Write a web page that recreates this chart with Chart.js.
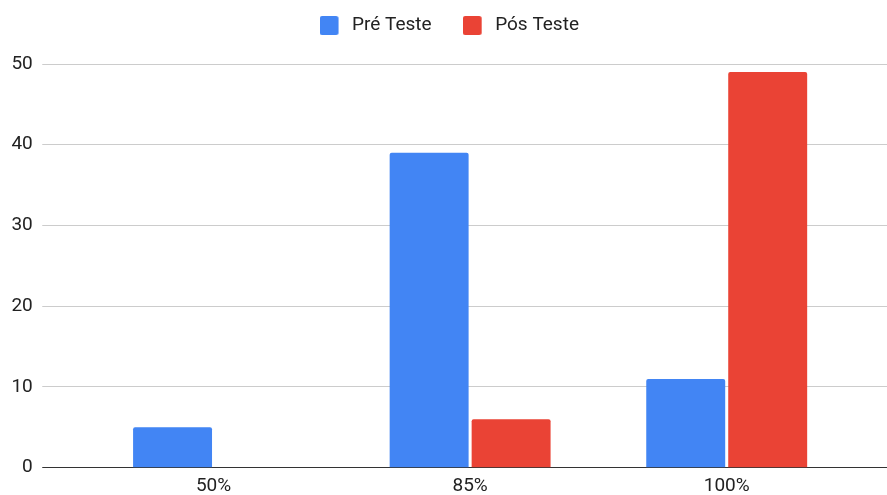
<!DOCTYPE html>
<html>
<head>
<meta charset="utf-8">
<script src="https://cdn.jsdelivr.net/npm/chart.js@4.4.1/dist/chart.umd.min.js"></script>
<style>
  html, body { margin: 0; padding: 0; background: #ffffff; }
  #wrap { width: 887px; height: 495px; position: relative; }
</style>
</head>
<body>
<div id="wrap"><canvas id="chart"></canvas></div>
<script>
// Score groups and number of answers per group
const categories = ['50%', '85%', '100%'];
const preTeste = [5, 39, 11];
const posTeste = [0, 6, 49];
const yTicks = [0, 10, 20, 30, 40, 50];
const seriesNames = ['Pré Teste', 'Pós Teste'];
const seriesColors = ['#4285F4', '#EA4335'];

const FONT = { family: 'Roboto', size: 19 };
const TEXT = '#222222';

// Rounded square legend swatch, left-aligned on a slightly wider canvas
function swatch(color) {
  const c = document.createElement('canvas');
  c.width = 23; c.height = 19;
  const g = c.getContext('2d');
  g.fillStyle = color;
  g.beginPath();
  if (g.roundRect) g.roundRect(0, 0, 19, 19, 2.5); else g.rect(0, 0, 19, 19);
  g.fill();
  return c;
}
const swatches = seriesColors.map(swatch);

const gridColor = (ctx) => (ctx.tick && ctx.tick.value === 0 ? '#333333' : '#cccccc');
const setTicks = (scale) => { scale.ticks = yTicks.map(v => ({ value: v })); };

// Extra space between the legend and the plot area
const legendGap = {
  id: 'legendGap',
  beforeLayout(chart) {
    const lg = chart.legend;
    if (lg && !lg._gapPatched) {
      const fit = lg.fit;
      lg.fit = function () { fit.call(this); this.height += 19; };
      lg._gapPatched = true;
    }
  }
};

new Chart(document.getElementById('chart'), {
  type: 'bar',
  data: {
    labels: categories,
    datasets: [
      { label: seriesNames[0], data: preTeste, backgroundColor: seriesColors[0],
        borderRadius: 2, borderSkipped: 'start', barPercentage: 0.963, categoryPercentage: 0.639 },
      { label: seriesNames[1], data: posTeste, backgroundColor: seriesColors[1],
        borderRadius: 2, borderSkipped: 'start', barPercentage: 0.963, categoryPercentage: 0.639 }
    ]
  },
  options: {
    responsive: true,
    maintainAspectRatio: false,
    animation: false,
    devicePixelRatio: 1,
    layout: { padding: { left: 11.5, right: 0, top: -15, bottom: 0 } },
    plugins: {
      tooltip: { enabled: false },
      legend: {
        position: 'top',
        align: 'center',
        labels: {
          usePointStyle: true,
          pointStyleWidth: 23,
          boxHeight: 19,
          padding: 31,
          color: TEXT,
          font: FONT,
          generateLabels(chart) {
            const items = Chart.defaults.plugins.legend.labels.generateLabels(chart);
            items.forEach((it, i) => { it.pointStyle = swatches[i]; });
            return items;
          }
        }
      }
    },
    scales: {
      x: {
        afterFit(scale) { scale.height = 27.3; },
        grid: { display: false, drawTicks: false },
        border: { display: false },
        ticks: { color: TEXT, font: { family: 'Roboto', size: 19, lineHeight: 1 }, padding: 9.2 }
      },
      y: {
        position: 'left',
        min: 0, max: 50,
        afterBuildTicks: setTicks,
        afterFit(scale) { scale.width = 73.75; },
        grid: { color: gridColor, lineWidth: 1, tickLength: 43 },
        border: { display: false },
        ticks: { color: TEXT, font: FONT, padding: 9.5 }
      },
      yRight: {
        position: 'right',
        min: 0, max: 50,
        afterBuildTicks: setTicks,
        afterFit(scale) { scale.width = 32; },
        grid: { color: gridColor, lineWidth: 1, tickLength: 32, drawOnChartArea: false },
        border: { display: false },
        ticks: { display: false }
      }
    }
  },
  plugins: [legendGap]
});
</script>
</body>
</html>
